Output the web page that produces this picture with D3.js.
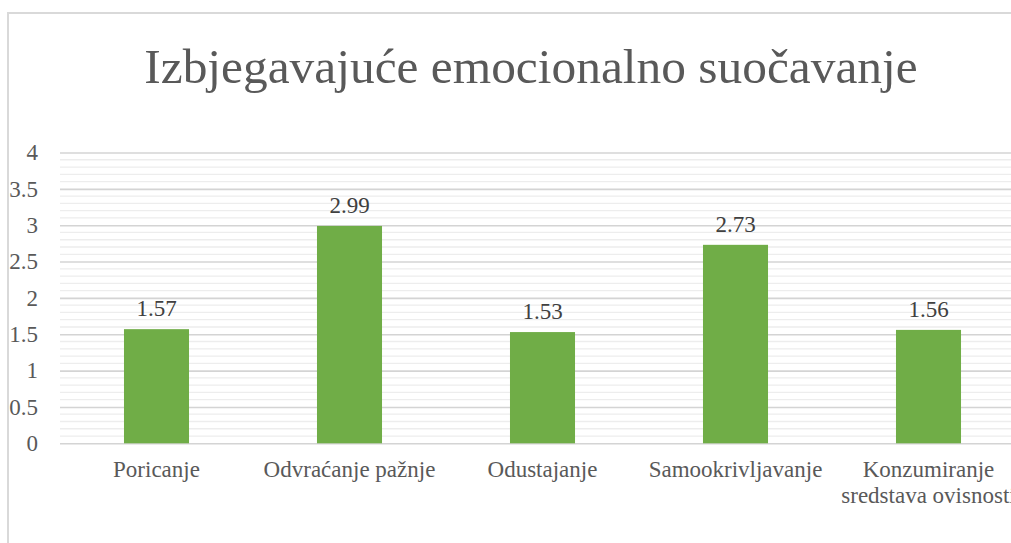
<!DOCTYPE html>
<html>
<head>
<meta charset="utf-8">
<script src="https://cdn.jsdelivr.net/npm/d3@7"></script>
<style>
  body { margin: 0; background: #fff; }
  svg text { font-family: 'Liberation Serif', 'Times New Roman', serif; }
</style>
</head>
<body>
<div id="chart"></div>
<script>
const title = 'Izbjegavajuće emocionalno suočavanje';
const categories = ['Poricanje', 'Odvraćanje pažnje', 'Odustajanje', 'Samookrivljavanje', 'Konzumiranje sredstava ovisnosti'];
const values = [1.57, 2.99, 1.53, 2.73, 1.56];
const yTicks = [0, 0.5, 1, 1.5, 2, 2.5, 3, 3.5, 4];
const yMinorStep = 0.1;

const width = 1011;
const height = 543;
const plot = { left: 60, right: 1025, top: 152.5, bottom: 443.3 };
const serif = "'Liberation Serif', 'Times New Roman', serif";

const svg = d3.select('#chart').append('svg')
  .attr('width', width)
  .attr('height', height)
  .attr('font-family', serif);

// chart frame (right and bottom edges are outside the picture)
svg.append('rect')
  .attr('x', 8)
  .attr('y', 13)
  .attr('width', 1100)
  .attr('height', 600)
  .attr('fill', '#fff')
  .attr('stroke', '#d9d9d9')
  .attr('stroke-width', 2);

svg.append('text')
  .attr('x', 531)
  .attr('y', 83)
  .attr('text-anchor', 'middle')
  .attr('fill', '#595959')
  .style('font-size', '49.4px')
  .text(title);

const x = d3.scaleBand()
  .domain(categories)
  .range([plot.left, plot.right])
  .paddingInner(0.663)
  .paddingOuter(0.3315);

const y = d3.scaleLinear()
  .domain([0, 4])
  .range([plot.bottom, plot.top]);

// minor gridlines
const minor = d3.range(0, 4 + 1e-9, yMinorStep).filter(v => Math.abs(v * 2 - Math.round(v * 2)) > 1e-6);
svg.append('g')
  .selectAll('line')
  .data(minor)
  .enter().append('line')
    .attr('x1', plot.left)
    .attr('x2', plot.right)
    .attr('y1', d => y(d))
    .attr('y2', d => y(d))
    .attr('stroke', '#ededed')
    .attr('stroke-width', 1.3);

// major gridlines + tick labels
const yAxis = svg.append('g')
  .attr('transform', `translate(${plot.left},0)`)
  .call(d3.axisLeft(y).tickValues(yTicks).tickFormat(d3.format('')).tickSize(-(plot.right - plot.left)).tickPadding(22))
  .attr('font-family', serif)
  .attr('font-size', 23);
yAxis.select('.domain').remove();
yAxis.selectAll('line')
  .attr('stroke', '#d4d4d4')
  .attr('stroke-width', 1.6);
yAxis.selectAll('text')
  .attr('fill', '#595959');

svg.append('g')
  .selectAll('text')
  .data(values)
  .enter().append('text')
    .attr('x', (d, i) => x(categories[i]) + x.bandwidth() / 2)
    .attr('y', d => y(d) - 13)
    .attr('text-anchor', 'middle')
    .attr('fill', '#404040')
    .style('font-size', '23px')
    .text(d => d.toFixed(2));

svg.append('g')
  .selectAll('rect')
  .data(values)
  .enter().append('rect')
    .attr('x', (d, i) => x(categories[i]))
    .attr('y', d => y(d))
    .attr('width', x.bandwidth())
    .attr('height', d => y(0) - y(d))
    .attr('fill', '#70ad47');

// category labels, wrapped when wider than one band step
const xLabels = svg.append('g')
  .selectAll('text')
  .data(categories)
  .enter().append('text')
    .attr('x', d => x(d) + x.bandwidth() / 2)
    .attr('y', 476.7)
    .attr('text-anchor', 'middle')
    .attr('fill', '#595959')
    .style('font-size', '23px');

xLabels.each(function (d) {
  const el = d3.select(this);
  const words = d.split(' ');
  const lines = [];
  let line = [];
  const probe = el.append('tspan');
  words.forEach((w) => {
    const next = line.concat(w);
    probe.text(next.join(' '));
    if (line.length && probe.node().getComputedTextLength() > x.step()) {
      lines.push(line.join(' '));
      line = [w];
    } else {
      line = next;
    }
  });
  lines.push(line.join(' '));
  probe.remove();
  lines.forEach((l, i) => {
    el.append('tspan')
      .attr('x', el.attr('x'))
      .attr('dy', i === 0 ? 0 : 26.5)
      .text(l);
  });
});
</script>
</body>
</html>
